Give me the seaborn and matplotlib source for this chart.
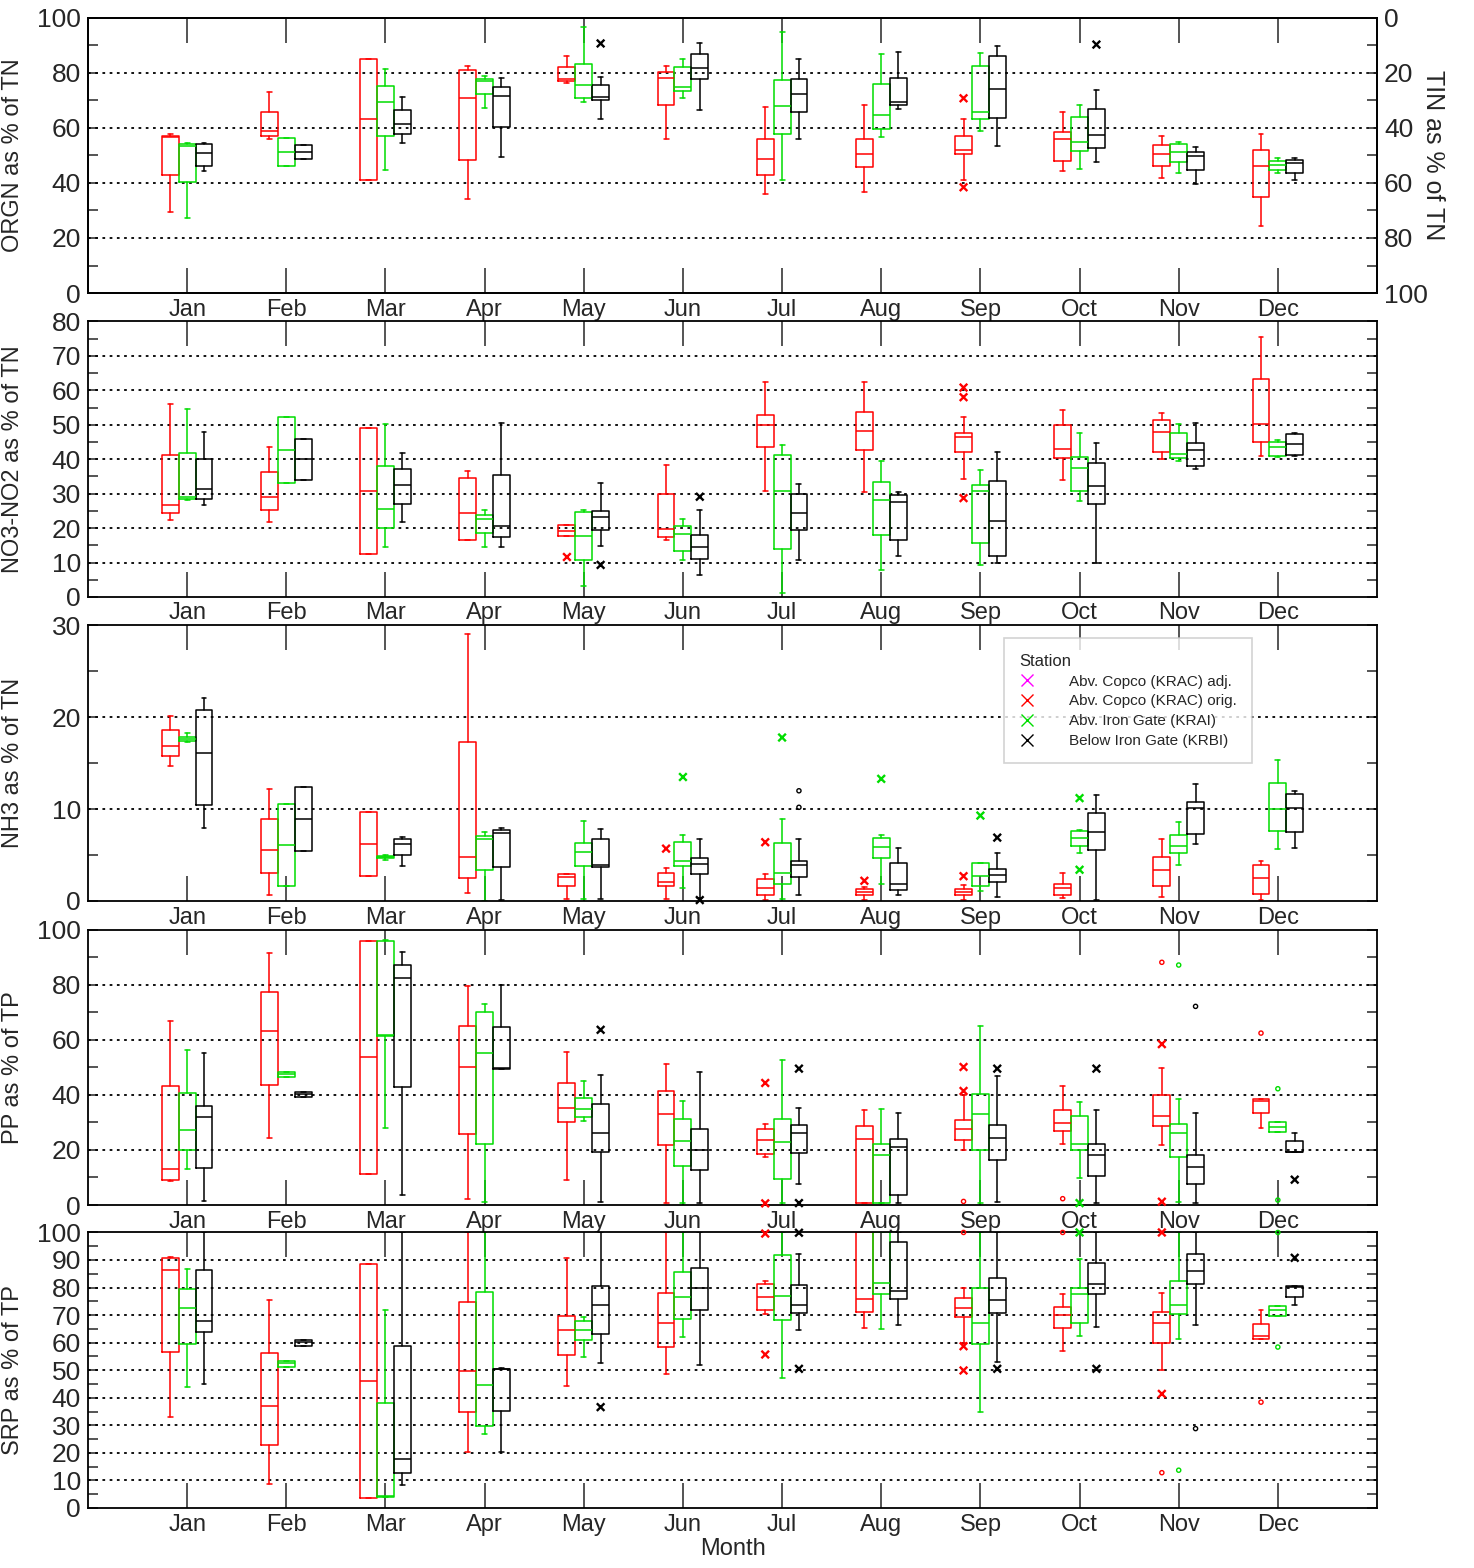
import matplotlib
matplotlib.use("Agg")
import matplotlib.pyplot as plt
from matplotlib.ticker import MultipleLocator
from matplotlib.lines import Line2D
import pandas as pd
import seaborn as sns

MONTHS = ["Jan", "Feb", "Mar", "Apr", "May", "Jun",
          "Jul", "Aug", "Sep", "Oct", "Nov", "Dec"]

STATION_NAMES = {
    "KRAC_ADJ": "Abv. Copco (KRAC) adj.",
    "KRAC": "Abv. Copco (KRAC) orig.",
    "KRAI": "Abv. Iron Gate (KRAI)",
    "KRBI": "Below Iron Gate (KRBI)",
}
STATION_COLORS = {"KRAC_ADJ": "#ff00ff", "KRAC": "#ff0000",
                  "KRAI": "#00dd00", "KRBI": "#000000"}
STATION_OFFSET = {"KRAC": -0.17, "KRAI": 0.0, "KRBI": 0.17}

# Monthly box statistics: (whisker low, Q1, median, Q3, whisker high)
orgn_krac = [(29.5, 43.0, 56.5, 57.0, 57.6), (55.9, 57.1, 58.8, 65.7, 72.9),
             (41.1, 41.1, 63.0, 84.8, 84.8), (34.3, 48.2, 70.8, 80.8, 82.5),
             (76.1, 77.0, 77.6, 82.0, 85.9), (56.0, 68.3, 78.0, 80.1, 82.5),
             (36.0, 43.0, 48.6, 55.9, 67.5), (36.7, 45.9, 50.6, 55.9, 68.4),
             (41.2, 50.4, 52.0, 57.1, 63.0), (44.2, 47.8, 55.9, 58.3, 65.7),
             (41.8, 46.0, 50.6, 53.7, 57.0), (24.3, 34.8, 46.0, 51.9, 57.6)]
orgn_krai = [(27.1, 40.2, 53.5, 54.0, 54.5), (46.1, 46.1, 51.2, 56.3, 56.3),
             (44.6, 57.0, 69.5, 75.3, 81.2), (67.3, 72.2, 77.0, 77.8, 78.8),
             (69.3, 70.8, 75.5, 83.0, 96.6), (70.7, 73.5, 74.8, 81.9, 85.1),
             (41.0, 57.6, 68.0, 77.5, 94.9), (56.5, 59.6, 64.6, 75.8, 86.6),
             (58.7, 63.3, 65.8, 82.5, 87.0), (44.9, 51.6, 54.7, 63.9, 68.1),
             (43.6, 47.7, 51.2, 54.0, 54.7), (43.7, 44.5, 46.6, 48.0, 48.9)]
orgn_krbi = [(44.2, 46.1, 51.0, 54.2, 54.6), (48.7, 48.7, 51.2, 53.6, 53.6),
             (54.5, 57.7, 61.3, 66.3, 71.2), (49.3, 60.4, 71.4, 74.8, 78.2),
             (63.1, 69.9, 71.3, 75.7, 78.6), (66.5, 77.8, 81.7, 86.6, 90.6),
             (55.9, 65.8, 72.2, 77.7, 84.9), (66.7, 68.3, 69.3, 78.0, 87.5),
             (53.3, 63.5, 74.0, 85.9, 89.6), (47.5, 52.5, 57.2, 66.7, 73.7),
             (39.5, 44.5, 49.6, 51.2, 53.1), (41.0, 43.7, 47.2, 48.2, 49.0)]
orgn_outliers = [("May", "KRBI", 90.6, "x"), ("Sep", "KRAC", 70.7, "x"),
                 ("Sep", "KRAC", 38.4, "x"), ("Oct", "KRBI", 90.2, "x")]

no3_krac = [(22.3, 24.3, 26.6, 41.3, 55.9), (21.7, 25.3, 29.0, 36.3, 43.6),
            (12.5, 12.5, 30.8, 49.1, 49.1), (16.5, 16.5, 24.3, 34.4, 36.6),
            (17.6, 17.6, 19.2, 20.9, 20.9), (16.4, 17.5, 19.6, 29.9, 38.2),
            (30.9, 43.6, 49.9, 52.9, 62.4), (30.4, 42.7, 48.2, 53.8, 62.4),
            (34.3, 42.0, 46.4, 47.6, 52.2), (33.9, 40.4, 43.0, 49.9, 54.3),
            (40.0, 42.0, 48.0, 51.3, 53.5), (40.9, 45.0, 50.2, 63.3, 75.6)]
no3_krai = [(28.1, 28.3, 28.9, 41.9, 54.6), (33.2, 33.2, 42.7, 52.3, 52.3),
            (14.4, 20.0, 25.6, 37.9, 50.2), (14.4, 18.5, 22.7, 23.9, 25.2),
            (3.3, 10.7, 17.6, 24.8, 25.3), (10.8, 13.3, 18.3, 20.7, 22.7),
            (1.2, 13.9, 30.7, 41.3, 44.0), (7.9, 18.1, 28.1, 33.4, 39.5),
            (9.3, 15.8, 30.7, 32.6, 37.0), (28.0, 30.9, 37.3, 40.7, 47.7),
            (39.5, 40.4, 41.6, 47.7, 50.3), (40.7, 40.9, 43.5, 45.1, 45.5)]
no3_krbi = [(26.7, 28.3, 31.2, 40.1, 47.9), (34.1, 34.1, 40.0, 46.0, 46.0),
            (21.7, 27.0, 32.4, 37.1, 41.9), (14.4, 17.4, 20.5, 35.4, 50.5),
            (14.7, 19.5, 23.1, 25.1, 33.1), (6.3, 11.0, 14.5, 18.0, 25.3),
            (10.7, 19.5, 24.4, 30.0, 32.8), (12.0, 16.5, 27.5, 29.5, 30.5),
            (10.0, 12.0, 22.0, 33.7, 42.0), (9.8, 27.0, 32.1, 39.0, 44.7),
            (37.1, 38.1, 42.6, 44.7, 50.5), (40.8, 41.3, 44.4, 47.4, 47.7)]
no3_outliers = [("May", "KRAC", 11.6, "x"), ("May", "KRBI", 9.3, "x"),
                ("Jun", "KRBI", 29.1, "x"), ("Sep", "KRAC", 60.8, "x"),
                ("Sep", "KRAC", 58.0, "x"), ("Sep", "KRAC", 28.7, "x")]

nh3_krac = [(14.7, 15.8, 16.9, 18.6, 20.1), (0.6, 3.0, 5.6, 8.9, 12.2),
            (2.7, 2.7, 6.2, 9.7, 9.7), (0.9, 2.5, 4.8, 17.3, 29.1),
            (0.2, 1.6, 2.6, 2.9, 2.9), (0.2, 1.6, 2.1, 3.1, 3.6),
            (0.1, 0.6, 1.4, 2.4, 2.9), (0.1, 0.7, 1.0, 1.3, 1.5),
            (0.1, 0.6, 1.0, 1.3, 1.7), (0.3, 0.7, 1.4, 1.8, 3.0),
            (0.4, 1.6, 3.4, 4.8, 6.8), (0.1, 0.8, 2.5, 3.9, 4.3)]
nh3_krai = [(17.3, 17.4, 17.6, 17.9, 18.3), (1.6, 1.6, 6.1, 10.6, 10.6),
            (4.5, 4.7, 4.8, 4.9, 5.0), (0.0, 3.4, 6.8, 7.1, 7.5),
            (0.2, 3.8, 5.3, 6.3, 8.7), (1.4, 3.8, 4.3, 6.4, 7.2),
            (0.2, 1.9, 3.0, 6.3, 8.9), (1.9, 4.7, 5.9, 6.9, 7.2),
            (1.1, 1.6, 2.7, 4.1, 4.1), (5.2, 6.0, 6.9, 7.6, 7.7),
            (3.9, 5.2, 6.0, 7.2, 8.6), (5.7, 7.6, 10.0, 12.9, 15.4)]
nh3_krbi = [(8.0, 10.4, 16.1, 20.8, 22.1), (5.4, 5.4, 8.9, 12.4, 12.4),
            (3.8, 5.0, 6.2, 6.7, 7.0), (0.1, 3.7, 7.4, 7.7, 8.0),
            (0.2, 3.7, 3.9, 6.7, 7.8), (0.3, 2.9, 4.0, 4.7, 6.8),
            (0.6, 2.6, 3.9, 4.3, 6.7), (0.6, 1.2, 1.8, 4.1, 5.8),
            (0.4, 2.1, 2.8, 3.5, 5.2), (0.1, 5.5, 7.5, 9.6, 11.5),
            (6.2, 7.3, 10.1, 10.8, 12.7), (5.8, 7.5, 10.1, 11.6, 12.0)]
nh3_outliers = [("Jun", "KRAC", 5.7, "x"), ("Jun", "KRAI", 13.5, "x"),
                ("Jun", "KRBI", 0.1, "x"), ("Jul", "KRAC", 6.4, "x"),
                ("Jul", "KRAI", 17.8, "x"), ("Aug", "KRAC", 2.2, "x"),
                ("Aug", "KRAI", 13.3, "x"), ("Sep", "KRAC", 2.7, "x"),
                ("Sep", "KRAI", 9.3, "x"), ("Sep", "KRBI", 6.9, "x"),
                ("Oct", "KRAI", 11.2, "x"), ("Oct", "KRAI", 3.4, "x"),
                ("Jul", "KRBI", 12.0, "o"), ("Jul", "KRBI", 10.2, "o")]

pp_krac = [(8.8, 9.0, 13.1, 43.3, 66.9), (24.5, 43.7, 63.1, 77.2, 91.4),
           (11.3, 11.3, 53.8, 96.0, 96.0), (2.2, 25.9, 50.2, 65.1, 79.6),
           (9.0, 30.3, 35.2, 44.4, 55.6), (0.7, 21.7, 32.9, 41.5, 51.3),
           (17.5, 18.5, 23.5, 27.7, 29.4), (0.7, 0.7, 24.1, 28.7, 34.6),
           (19.9, 23.6, 27.5, 30.8, 40.0), (22.2, 26.7, 29.8, 34.6, 43.1),
           (21.8, 28.5, 32.3, 40.0, 49.9), (28.0, 33.3, 37.8, 38.6, 38.6)]
pp_krai = [(13.1, 20.1, 27.3, 40.5, 56.1), (46.4, 46.4, 47.5, 48.4, 48.4),
           (28.0, 61.2, 61.8, 95.7, 96.1), (1.0, 22.1, 55.0, 70.2, 73.0),
           (30.5, 32.1, 35.0, 39.0, 45.0), (0.7, 14.0, 23.2, 31.2, 37.6),
           (0.6, 9.4, 22.8, 31.4, 52.8), (0.7, 0.7, 18.1, 22.3, 34.9),
           (0.6, 19.9, 32.9, 40.3, 65.1), (9.7, 20.1, 22.2, 32.4, 37.5),
           (1.2, 17.5, 26.1, 29.3, 38.4), (26.5, 26.5, 28.2, 30.2, 30.2)]
pp_krbi = [(1.4, 13.6, 31.8, 35.8, 55.0), (39.2, 39.2, 40.3, 41.0, 41.0),
           (3.5, 42.9, 82.4, 87.1, 91.8), (49.2, 49.2, 49.8, 64.7, 79.7),
           (1.0, 19.2, 26.2, 36.8, 47.3), (0.7, 12.7, 20.0, 27.7, 48.1),
           (7.7, 18.8, 26.2, 29.0, 35.3), (0.6, 3.6, 21.0, 24.1, 33.3),
           (1.0, 16.3, 24.4, 29.2, 46.9), (0.6, 10.6, 18.3, 22.3, 34.4),
           (0.6, 7.5, 13.8, 18.3, 33.3), (19.1, 19.1, 19.3, 23.4, 26.1)]
pp_outliers = [("May", "KRBI", 63.6, "x"), ("Jul", "KRAC", 44.3, "x"),
               ("Jul", "KRAC", 0.6, "x"), ("Jul", "KRBI", 49.5, "x"),
               ("Jul", "KRBI", 0.7, "x"), ("Sep", "KRAC", 50.1, "x"),
               ("Sep", "KRAC", 41.4, "x"), ("Sep", "KRBI", 49.5, "x"),
               ("Oct", "KRAI", 0.7, "x"), ("Oct", "KRBI", 49.5, "x"),
               ("Nov", "KRAC", 58.4, "x"), ("Nov", "KRAC", 1.2, "x"),
               ("Dec", "KRBI", 9.2, "x"),
               ("Sep", "KRAC", 1.3, "o"), ("Oct", "KRAC", 2.3, "o"),
               ("Nov", "KRAC", 88.1, "o"), ("Nov", "KRAI", 87.1, "o"),
               ("Nov", "KRBI", 72.1, "o"), ("Dec", "KRAC", 62.4, "o"),
               ("Dec", "KRAI", 42.2, "o"), ("Dec", "KRAI", 1.8, "o")]

srp_krac = [(33.0, 56.5, 86.5, 90.7, 91.0), (8.6, 22.8, 37.0, 56.1, 75.3),
            (3.7, 3.7, 46.1, 88.6, 88.6), (20.4, 34.8, 49.8, 74.9, 100.0),
            (44.3, 55.4, 64.5, 69.6, 90.7), (48.7, 58.3, 67.0, 78.1, 100.0),
            (70.5, 72.0, 76.4, 81.4, 82.4), (65.3, 71.1, 75.8, 100.0, 100.0),
            (59.9, 69.2, 72.4, 76.1, 79.9), (57.0, 65.2, 70.1, 73.1, 77.6),
            (49.9, 59.9, 67.3, 71.3, 78.1), (61.2, 61.2, 62.4, 66.6, 71.8)]
srp_krai = [(44.0, 59.4, 72.7, 79.6, 86.9), (51.3, 51.3, 52.5, 53.5, 53.5),
            (4.0, 4.0, 4.3, 38.1, 71.8), (26.9, 29.8, 44.7, 78.3, 100.0),
            (54.9, 60.8, 64.7, 67.7, 69.3), (62.2, 68.6, 76.7, 85.8, 100.0),
            (47.2, 68.3, 77.1, 91.9, 100.0), (65.1, 77.6, 81.6, 100.0, 100.0),
            (34.8, 59.6, 67.0, 80.0, 100.0), (62.4, 67.3, 77.8, 79.9, 90.4),
            (61.3, 70.5, 73.7, 82.5, 100.0), (69.8, 69.8, 71.7, 73.4, 73.4)]
srp_krbi = [(44.9, 64.0, 68.0, 86.3, 100.0), (58.9, 58.9, 60.1, 60.8, 60.8),
            (8.2, 12.8, 17.6, 58.7, 100.0), (20.2, 35.2, 50.4, 50.4, 50.7),
            (52.5, 63.0, 73.6, 80.7, 100.0), (51.8, 72.0, 79.8, 87.2, 100.0),
            (64.5, 70.8, 73.6, 81.0, 92.0), (66.5, 75.8, 78.8, 96.7, 100.0),
            (52.9, 70.7, 75.4, 83.6, 100.0), (65.5, 77.5, 81.4, 89.0, 100.0),
            (66.5, 81.3, 86.1, 92.3, 100.0), (73.7, 76.6, 80.2, 80.6, 80.7)]
srp_outliers = [("May", "KRBI", 36.6, "x"), ("Jul", "KRAC", 99.6, "x"),
                ("Jul", "KRAC", 55.7, "x"), ("Jul", "KRBI", 99.9, "x"),
                ("Jul", "KRBI", 50.5, "x"), ("Sep", "KRAC", 58.7, "x"),
                ("Sep", "KRAC", 49.9, "x"), ("Sep", "KRBI", 50.5, "x"),
                ("Oct", "KRAI", 100.0, "x"), ("Oct", "KRBI", 50.5, "x"),
                ("Nov", "KRAC", 100.0, "x"), ("Nov", "KRAC", 41.4, "x"),
                ("Dec", "KRBI", 90.8, "x"),
                ("Sep", "KRAC", 100.0, "o"), ("Oct", "KRAC", 100.0, "o"),
                ("Nov", "KRAC", 12.8, "o"), ("Nov", "KRAI", 13.7, "o"),
                ("Nov", "KRBI", 28.8, "o"), ("Dec", "KRAC", 38.4, "o"),
                ("Dec", "KRAI", 58.4, "o"), ("Dec", "KRAI", 100.0, "o")]

# Panel definitions: label, upper y limit, gridline step, minor tick step, data
PANELS = [
    ("ORGN as % of TN", 100, 20, 10, orgn_krac, orgn_krai, orgn_krbi, orgn_outliers),
    ("NO3-NO2 as % of TN", 80, 10, 5, no3_krac, no3_krai, no3_krbi, no3_outliers),
    ("NH3 as % of TN", 30, 10, 5, nh3_krac, nh3_krai, nh3_krbi, nh3_outliers),
    ("PP as % of TP", 100, 20, 10, pp_krac, pp_krai, pp_krbi, pp_outliers),
    ("SRP as % of TP", 100, 10, 5, srp_krac, srp_krai, srp_krbi, srp_outliers),
]
# Figure-fraction rectangles for the five stacked panels
PANEL_BOTTOMS = [0.8131, 0.6193, 0.4254, 0.2315, 0.0383]
PANEL_HEIGHT = 0.1757
AX_LEFT, AX_WIDTH = 0.0597, 0.8745

sns.set_theme(style="ticks")
plt.rcParams["font.family"] = ["Liberation Sans", "DejaVu Sans"]
plt.rcParams["axes.linewidth"] = 1.3
plt.rcParams["axes.edgecolor"] = "black"

fig = plt.figure(figsize=(14.74, 15.68), dpi=100)
fig.patch.set_facecolor("white")

TICK_FS = 19
MONTH_FS = 17
LABEL_FS = 17


def draw_boxes(ax, stats, station):
    color = STATION_COLORS[station]
    rows = [dict(whislo=s[0], q1=s[1], med=s[2], q3=s[3], whishi=s[4], fliers=[])
            for s in stats]
    positions = [m + 1 + STATION_OFFSET[station] for m in range(12)]
    props = dict(color=color, linewidth=1.1)
    ax.bxp(rows, positions=positions, widths=0.17, capwidths=0.05,
           showfliers=False, manage_ticks=False,
           boxprops=props, whiskerprops=props, capprops=props,
           medianprops=props)


def draw_outliers(ax, outliers):
    if not outliers:
        return
    df = pd.DataFrame(outliers, columns=["month", "station", "value", "kind"])
    df["pos"] = [MONTHS.index(m) + 1 + STATION_OFFSET[s]
                 for m, s in zip(df["month"], df["station"])]
    palette = dict(STATION_COLORS)
    crosses = df[df["kind"] == "x"]
    if len(crosses):
        sns.scatterplot(data=crosses, x="pos", y="value", hue="station",
                        palette=palette, marker="x", s=30, linewidth=1.7,
                        legend=False, ax=ax, zorder=5, clip_on=False)
    rings = df[df["kind"] == "o"]
    if len(rings):
        n_before = len(ax.collections)
        sns.scatterplot(data=rings, x="pos", y="value", hue="station",
                        palette=palette, marker="o", s=9,
                        legend=False, ax=ax, zorder=5, clip_on=False)
        for coll in ax.collections[n_before:]:
            coll.set_edgecolor(coll.get_facecolor())
            coll.set_facecolor("none")
            coll.set_linewidth(1.0)


axes = []
for i, (label, ytop, gstep, mstep, krac, krai, krbi, outl) in enumerate(PANELS):
    ax = fig.add_axes([AX_LEFT, PANEL_BOTTOMS[i], AX_WIDTH, PANEL_HEIGHT])
    axes.append(ax)
    ax.set_facecolor("white")
    ax.set_xlim(0, 13)
    ax.set_ylim(0, ytop)

    # dotted reference lines at the inner major ticks
    for g in range(gstep, ytop, gstep):
        ax.axhline(g, color="black", linestyle=(0, (1.5, 2.5)), linewidth=1.3, zorder=1)

    draw_boxes(ax, krac, "KRAC")
    draw_boxes(ax, krai, "KRAI")
    draw_boxes(ax, krbi, "KRBI")
    draw_outliers(ax, outl)

    ax.set_xticks(range(1, 13))
    ax.set_xticklabels(MONTHS)
    ax.yaxis.set_major_locator(MultipleLocator(gstep))
    ax.yaxis.set_minor_locator(MultipleLocator(mstep))
    ax.tick_params(axis="x", which="major", direction="in", length=18, width=1.1,
                   top=True, bottom=True, labelsize=MONTH_FS, pad=4)
    ax.tick_params(axis="y", which="both", direction="in", length=7, width=1.1,
                   left=True, right=True, labelsize=TICK_FS, pad=5)
    ax.set_xlabel("")
    ax.set_ylabel(label, fontsize=LABEL_FS)
    ax.yaxis.set_label_coords(-0.05, 0.5)
    for sp in ax.spines.values():
        sp.set_visible(True)
        sp.set_linewidth(1.3)
        sp.set_color("black")

# right-hand scale of the top panel: TIN share is the complement of ORGN
twin = axes[0].twinx()
twin.set_ylim(100, 0)
twin.yaxis.set_major_locator(MultipleLocator(20))
twin.yaxis.set_minor_locator(MultipleLocator(10))
twin.tick_params(axis="y", which="both", direction="in", length=7, width=1.1,
                 labelsize=TICK_FS, pad=5)
twin.set_ylabel("TIN as % of TN", fontsize=LABEL_FS + 1, rotation=-90)
twin.yaxis.set_label_coords(1.053, 0.5)

axes[-1].set_xlabel("Month", fontsize=MONTH_FS, labelpad=2)

# station legend inside the ammonia panel
keys = ["KRAC_ADJ", "KRAC", "KRAI", "KRBI"]
handles = [Line2D([], [], linestyle="none", marker="x", markersize=8,
                  markeredgewidth=1.0, color=STATION_COLORS[k]) for k in keys]
labels = [STATION_NAMES[k] for k in keys]
leg = axes[2].legend(handles, labels, title="Station", loc="upper left",
                     bbox_to_anchor=(0.711, 0.953), borderaxespad=0.0,
                     fontsize=11, title_fontsize=12,
                     frameon=True, fancybox=False, edgecolor="#c8c8c8",
                     handlelength=1.0, handletextpad=2.2, labelspacing=0.38,
                     borderpad=1.0, alignment="left")
leg.get_frame().set_linewidth(1.2)
leg.set_zorder(10)

fig.savefig("out.png", dpi=100, facecolor="white")
